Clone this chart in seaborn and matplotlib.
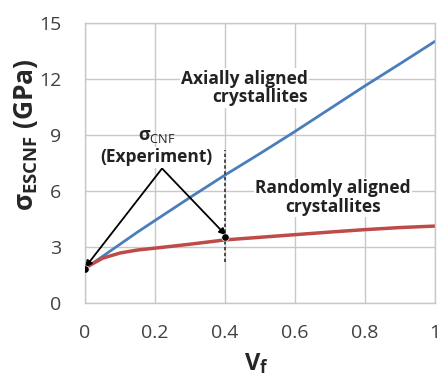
import numpy as np
import pandas as pd
import matplotlib.pyplot as plt
import seaborn as sns

# --- data ---
vf = [0.0, 0.05, 0.1, 0.15, 0.2, 0.3, 0.4, 0.5, 0.6, 0.7, 0.8, 0.9, 1.0]
axial = [1.85, 2.5, 3.15, 3.8, 4.42, 5.65, 6.85, 8.0, 9.18, 10.4, 11.62, 12.8, 14.0]
random_ = [1.88, 2.4, 2.68, 2.84, 2.94, 3.15, 3.38, 3.52, 3.66, 3.8, 3.93, 4.04, 4.12]
exp_vf = [0.0, 0.4]
exp_sigma = [1.85, 3.55]

df = pd.DataFrame({'vf': vf, 'axial': axial, 'random': random_})

sns.set_style('whitegrid')
plt.rcParams['font.family'] = ['Open Sans', 'DejaVu Sans']
plt.rcParams['mathtext.fontset'] = 'custom'
plt.rcParams['mathtext.rm'] = 'Open Sans'
plt.rcParams['mathtext.bf'] = 'Open Sans:bold'

fig = plt.figure(figsize=(4.43, 3.77), dpi=100)
ax = fig.add_axes([0.192, 0.196, 0.79, 0.744])

sns.lineplot(data=df, x='vf', y='axial', color='#4a7ebb', lw=2, ax=ax)
sns.lineplot(data=df, x='vf', y='random', color='#be4b48', lw=2.5, ax=ax)
ax.vlines(0.4, 2.2, 8.2, colors='#333333', linestyles=(0, (2, 1.5)), lw=1.2, zorder=3)
sns.scatterplot(x=exp_vf, y=exp_sigma, color='black', s=28, zorder=5, ax=ax)

# arrows from label
for tx, ty in [(0.0, 1.9), (0.403, 3.62)]:
    ax.annotate('', xy=(tx, ty), xytext=(0.22, 7.2),
                arrowprops=dict(arrowstyle='-|>', color='black', lw=1.3,
                                mutation_scale=10, shrinkA=0, shrinkB=0))

box = dict(facecolor='white', edgecolor='none', pad=1)
ax.text(0.205, 8.95, r'$\mathbf{\sigma}_{\mathrm{CNF}}$', ha='center', va='center',
        fontsize=13, color='#222222')
ax.text(0.205, 7.8, '(Experiment)', ha='center', va='center',
        fontsize=12.5, fontweight='bold', color='#222222', bbox=box)
ax.text(0.637, 11.5, 'Axially aligned\ncrystallites', ha='right', va='center',
        fontsize=12.5, fontweight='bold', color='#222222', linespacing=1.05, bbox=box)
ax.text(0.709, 5.65, 'Randomly aligned\ncrystallites', ha='center', va='center',
        fontsize=12.5, fontweight='bold', color='#222222', linespacing=1.05, bbox=box)

ax.set_xlim(0, 1)
ax.set_ylim(0, 15)
ax.set_xticks([0, 0.2, 0.4, 0.6, 0.8, 1.0])
ax.set_xticklabels(['0', '0.2', '0.4', '0.6', '0.8', '1'])
ax.set_yticks([0, 3, 6, 9, 12, 15])
ax.tick_params(axis='both', labelsize=14, colors='#404040', length=0)
ax.tick_params(axis='x', pad=15)
ax.tick_params(axis='y', pad=17)
ax.grid(True, color='#c8c8c8', lw=1)
for sp in ax.spines.values():
    sp.set_color('#c8c8c8')
    sp.set_linewidth(1)

ax.set_xlabel(r'$\mathbf{V_f}$', fontsize=17)
ax.set_ylabel(r'$\mathbf{\sigma_{ESCNF}}$ (GPa)', fontsize=19, fontweight='bold')
ax.xaxis.set_label_coords(0.49, -0.17)
ax.yaxis.set_label_coords(-0.13, 0.6)

fig.savefig('out.png', dpi=100)
